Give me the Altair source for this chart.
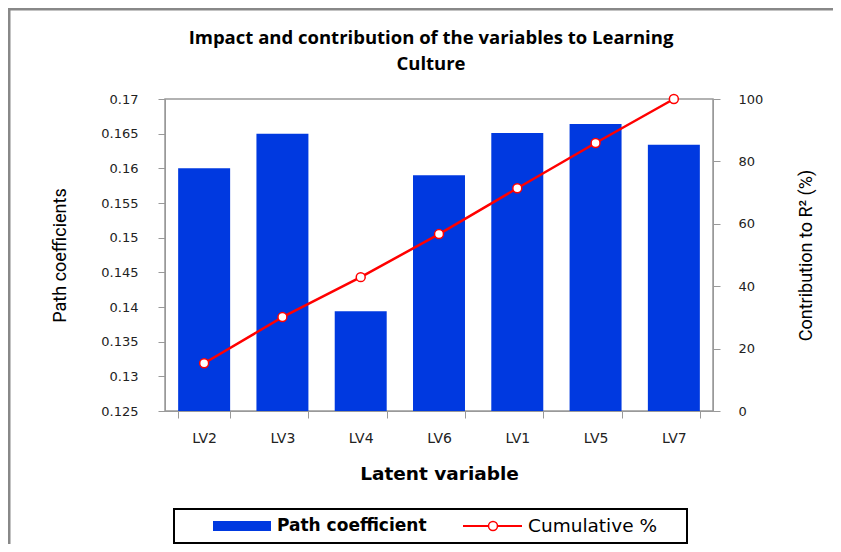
import altair as alt
import pandas as pd

categories = ["LV2", "LV3", "LV4", "LV6", "LV1", "LV5", "LV7"]
path_coef = [0.1600, 0.1650, 0.1394, 0.1590, 0.1651, 0.1664, 0.1634]
cumulative = [15.3, 30.1, 42.9, 56.7, 71.4, 85.9, 100.0]
baseline = 0.125
left_ticks = [0.125, 0.13, 0.135, 0.14, 0.145, 0.15, 0.155, 0.16, 0.165, 0.17]
right_ticks = [0, 20, 40, 60, 80, 100]
title_line1 = "Impact and contribution of the variables to Learning"
title_line2 = "Culture"

df = pd.DataFrame({"lv": categories, "path": path_coef, "cum": cumulative,
                   "base": [baseline] * len(categories)})

W, H = 548, 312
BLUE = "#0039E0"
RED = "#FF0000"

x_enc = alt.X(
    "lv:N", sort=categories,
    scale=alt.Scale(paddingInner=0.336, paddingOuter=0.168),
    axis=alt.Axis(title="Latent variable", labelAngle=0, tickBand="extent",
                  tickSize=7, labelPadding=13, labelFontSize=14, titleX=W / 2, titleY=62,
                  titleBaseline="middle", titleFont="DejaVu Sans",
                  titleFontWeight="bold", titleFontSize=18.5),
)

base = alt.Chart(df)

bars = base.mark_bar(color=BLUE).encode(
    x=x_enc,
    y=alt.Y("path:Q", scale=alt.Scale(domain=[0.125, 0.17], zero=False, nice=False),
            axis=alt.Axis(values=left_ticks, format=".3~f", title="Path coefficients",
                          tickSize=7, labelPadding=20, titleX=-105, titleY=H / 2,
                          titleBaseline="middle", titleAngle=270)),
    y2="base:Q",
)

line = base.mark_line(
    color=RED, strokeWidth=2.5,
    point=alt.OverlayMarkDef(shape="circle", filled=True, fill="white", stroke=RED,
                             strokeWidth=1.5, size=80, opacity=1),
).encode(
    x=x_enc,
    y=alt.Y("cum:Q", scale=alt.Scale(domain=[0, 100], nice=False),
            axis=alt.Axis(orient="right", values=right_ticks, title="Contribution to R² (%)",
                          tickSize=7, labelPadding=18, titleX=93, titleY=H / 2,
                          titleBaseline="middle", titleAngle=270)),
)

one = alt.Data(values=[{}])

frame = alt.Chart(one).mark_rect(fill="transparent", stroke="#888888", strokeWidth=3).encode(
    x=alt.value(-156), x2=alt.value(900), y=alt.value(-90), y2=alt.value(900))

title_style = dict(align="center", baseline="middle", font="Open Sans",
                   fontWeight="bold", fontSize=18.5, color="#000")
title1 = alt.Chart(one).mark_text(text=title_line1, **title_style).encode(
    x=alt.value(266), y=alt.value(-61))
title2 = alt.Chart(one).mark_text(text=title_line2, **title_style).encode(
    x=alt.value(266), y=alt.value(-35))

leg_box = alt.Chart(one).mark_rect(fill="transparent", stroke="#000000", strokeWidth=2).encode(
    x=alt.value(9), x2=alt.value(522), y=alt.value(410), y2=alt.value(444))
leg_bar = alt.Chart(one).mark_rect(fill=BLUE).encode(
    x=alt.value(48), x2=alt.value(106), y=alt.value(422), y2=alt.value(432))
leg_t1 = alt.Chart(one).mark_text(text="Path coefficient", align="left", baseline="middle",
                                  font="DejaVu Sans", fontWeight="bold", fontSize=17,
                                  color="#000").encode(x=alt.value(112), y=alt.value(427))
leg_line = alt.Chart(one).mark_rule(color=RED, strokeWidth=2).encode(
    x=alt.value(298), x2=alt.value(357), y=alt.value(427))
leg_pt = alt.Chart(one).mark_point(shape="circle", filled=True, fill="white", stroke=RED,
                                   strokeWidth=1.5, size=80, opacity=1).encode(
    x=alt.value(328), y=alt.value(427))
leg_t2 = alt.Chart(one).mark_text(text="Cumulative %", align="left", baseline="middle",
                                  font="DejaVu Sans", fontSize=18.5,
                                  color="#000").encode(x=alt.value(363), y=alt.value(427))

chart = alt.layer(frame, title1, title2, bars, line, leg_box, leg_bar, leg_t1, leg_line,
                  leg_pt, leg_t2).resolve_scale(
    y="independent"
).properties(
    width=W, height=H,
    autosize=alt.AutoSizeParams(type="none"),
    padding={"left": 157, "top": 91, "right": 120, "bottom": 133},
).configure_view(
    stroke="#999999", strokeWidth=1.5
).configure_axis(
    domainColor="#999999", tickColor="#999999", grid=False,
    labelFont="DejaVu Sans", labelFontSize=13, labelColor="#222222",
    titleFont="'Liberation Sans Narrow', 'Roboto', sans-serif", titleFontSize=18,
    titleFontWeight="normal", titleColor="#000000",
)

chart.save("out.html", embed_options={"renderer": "svg", "actions": False})
